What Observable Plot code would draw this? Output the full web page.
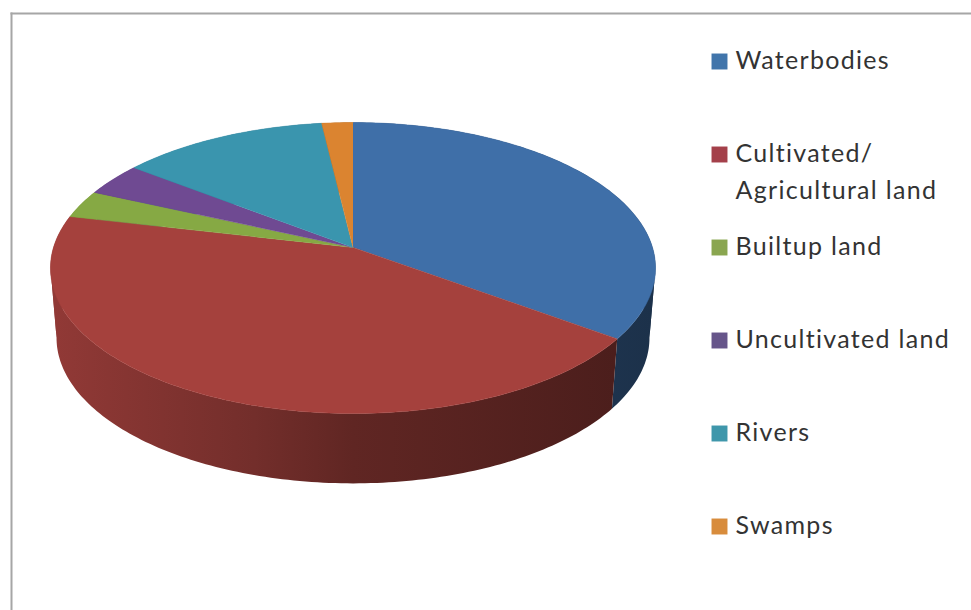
<!DOCTYPE html>
<html>
<head>
<meta charset="utf-8">
<script src="https://cdn.jsdelivr.net/npm/d3@7"></script>
<script src="https://cdn.jsdelivr.net/npm/@observablehq/plot@0.6"></script>
<style>
  html, body { margin: 0; padding: 0; background: #fff; }
  svg { display: block; }
  .legend-label { letter-spacing: 1.3px; }
</style>
</head>
<body>
<div id="chart"></div>
<script>
// Land cover shares, in percent, clockwise from twelve o'clock.
const categories = ["Waterbodies", "Cultivated/\nAgricultural land", "Builtup land", "Uncultivated land", "Rivers", "Swamps"];
const shares = [35.0, 43.6, 3.1, 3.7, 12.7, 1.9];
const topColors = ["#3f6fa8", "#a5413d", "#86a944", "#6f4a92", "#3a95ae", "#db8430"];
const swatchColors = ["#4175ab", "#a4404a", "#8aa650", "#66558a", "#3f97ab", "#d88c3c"];

// Tilted disc: perspective factor, wall depth and wall shading across the width.
const perspective = -0.141;
const depth = 0.49;
const wallShrink = 0.98;
const shadeStops = [[-1, 0.88], [-0.33, 0.7], [0, 0.58], [1, 0.44]];

const project = (deg) => {
  const a = (deg * Math.PI) / 180;
  const u = Math.sin(a), v = -Math.cos(a), w = 1 + perspective * v;
  return {x: u / w, y: v / w};
};

let running = 0;
const slices = shares.map((share, i) => {
  const start = running;
  running += (share / 100) * 360;
  const steps = Math.max(2, Math.ceil(running - start));
  const arc = d3.range(steps + 1).map((s) => project(start + ((running - start) * s) / steps));
  return {i, arc};
});

// Each slice's top is a fan from the centre.
const topPoints = (s) => [{x: 0, y: 0}, ...s.arc];

// Walls are cut where the rim turns back in x, so no polygon crosses itself
// at the disc's left and right extremes.
const lower = (p) => ({x: p.x * wallShrink, y: p.y + depth});
const wallPoints = (s) => {
  const runs = [[s.arc[0]]];
  let direction = 0;
  for (let k = 1; k < s.arc.length; ++k) {
    const d = Math.sign(s.arc[k].x - s.arc[k - 1].x);
    const run = runs[runs.length - 1];
    if (direction && d !== direction) runs.push([run[run.length - 1]]);
    runs[runs.length - 1].push(s.arc[k]);
    direction = d;
  }
  return runs.flatMap((run, r) =>
    [...run, ...run.slice().reverse().map(lower)].map((p) => ({...p, run: r}))
  );
};

// Horizontal light-to-dark gradients for the walls, placed with the chart's x scale.
const wallGradients = (index, {x}) => {
  const defs = d3.create("svg:defs");
  topColors.forEach((color, i) => {
    const g = defs.append("linearGradient")
      .attr("id", `wall-${i}`)
      .attr("gradientUnits", "userSpaceOnUse")
      .attr("x1", x(-1)).attr("x2", x(1)).attr("y1", 0).attr("y2", 0);
    const c = d3.rgb(color);
    for (const [pos, k] of shadeStops) {
      g.append("stop")
        .attr("offset", (pos + 1) / 2)
        .attr("stop-color", d3.rgb(c.r * k, c.g * k, c.b * k).formatHex());
    }
  });
  return defs.node();
};

// The frame's origin sits on the chart border, so legend offsets start from there.
const originX = 11, originY = 13;
const swatchX = 719 - originX, labelX = 735 - originX;
const rowY = (i) => 61 + 93 * i - originY;

const legendMarks = categories.flatMap((label, i) => [
  Plot.dot([label], {
    frameAnchor: "top-left", dx: swatchX, dy: rowY(i),
    symbol: "square", r: 9, fill: swatchColors[i]
  }),
  Plot.text([label], {
    text: (d) => d, frameAnchor: "top-left", textAnchor: "start", lineAnchor: "top",
    dx: labelX, dy: rowY(i) - 19, lineHeight: 1.48,
    fontFamily: "Lato", fontSize: 25, fill: "#333333",
    className: "legend-label"
  })
]);

const chart = Plot.plot({
  width: 971,
  height: 610,
  marginTop: originY,
  marginLeft: originX,
  marginRight: 0,
  marginBottom: 0,
  x: {domain: [-1, 1], range: [53, 652], axis: null},
  y: {domain: [-1, 1], range: [104.4, 389.6], axis: null},
  marks: [
    wallGradients,
    Plot.frame({anchor: "top", stroke: "#a6a6a6", strokeWidth: 2}),
    Plot.frame({anchor: "left", stroke: "#a6a6a6", strokeWidth: 2}),
    ...slices.map((s) => Plot.line(wallPoints(s), {
      x: "x", y: "y", z: "run", fill: `url(#wall-${s.i})`, stroke: "none"
    })),
    ...slices.map((s) => Plot.line(topPoints(s), {
      x: "x", y: "y", fill: topColors[s.i], stroke: topColors[s.i], strokeWidth: 0.5
    })),
    ...legendMarks
  ]
});
document.getElementById("chart").append(chart);
</script>
</body>
</html>
